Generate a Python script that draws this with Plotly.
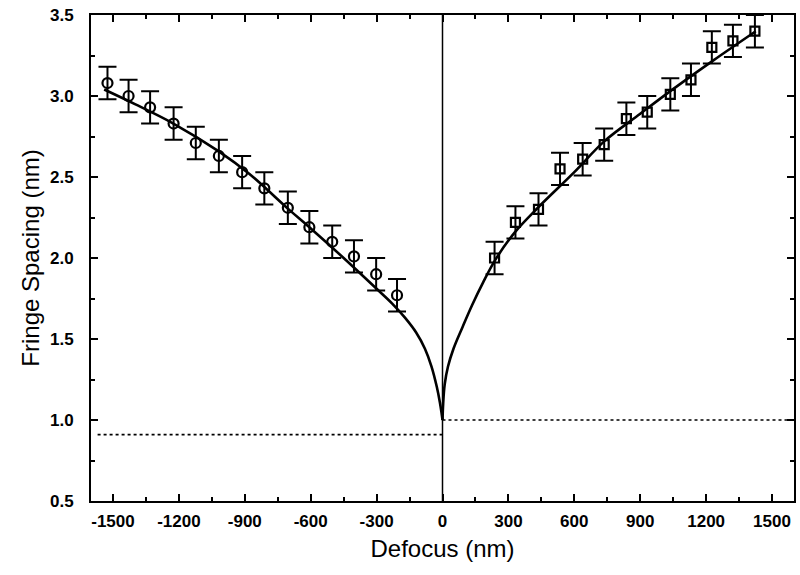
import plotly.graph_objects as go

# Measured fringe spacing, negative defocus (underfocus)
under_defocus = [-1525, -1429, -1331, -1224, -1123, -1018, -912, -811, -704, -606, -502, -403, -302, -207]
under_spacing = [3.08, 3.00, 2.93, 2.83, 2.71, 2.63, 2.53, 2.43, 2.31, 2.19, 2.10, 2.01, 1.90, 1.77]
under_err = [0.1] * len(under_defocus)

# Measured fringe spacing, positive defocus (overfocus)
over_defocus = [237, 332, 437, 535, 638, 736, 837, 932, 1037, 1131, 1226, 1322, 1422]
over_spacing = [2.00, 2.22, 2.30, 2.55, 2.61, 2.70, 2.86, 2.90, 3.01, 3.10, 3.30, 3.34, 3.40]
over_err = [0.1] * len(over_defocus)

# Fitted curves
fit_under_x = [-1540, -1400, -1225, -1020, -880, -700, -606, -450, -300, -230, -170, -120, -80, -50, -26, -12, -4, 0]
fit_under_y = [3.04, 2.95, 2.83, 2.66, 2.52, 2.30, 2.19, 2.00, 1.81, 1.72, 1.63, 1.54, 1.44, 1.33, 1.205, 1.11, 1.04, 1.0]
fit_over_x = [0, 3, 10, 25, 50, 90, 135, 185, 241, 330, 434, 600, 736, 900, 1037, 1233, 1426]
fit_over_y = [1.0, 1.10, 1.22, 1.33, 1.44, 1.57, 1.71, 1.85, 1.99, 2.16, 2.31, 2.53, 2.72, 2.89, 3.03, 3.22, 3.40]

# Limiting spacings (dotted reference levels)
limit_under_x = [-1570, 0]
limit_under_y = [0.91, 0.91]
limit_over_x = [0, 1600]
limit_over_y = [1.0, 1.0]

x_ticks = [-1500, -1200, -900, -600, -300, 0, 300, 600, 900, 1200, 1500]
y_ticks = [0.5, 1.0, 1.5, 2.0, 2.5, 3.0, 3.5]

fig = go.Figure()

for xs, ys in [(limit_under_x, limit_under_y), (limit_over_x, limit_over_y)]:
    fig.add_trace(go.Scatter(x=xs, y=ys, mode="lines",
                             line=dict(color="black", width=1.6, dash="dot"),
                             showlegend=False, hoverinfo="skip"))

for xs, ys in [(fit_under_x, fit_under_y), (fit_over_x, fit_over_y)]:
    fig.add_trace(go.Scatter(x=xs, y=ys, mode="lines",
                             line=dict(color="black", width=2.6, shape="spline", smoothing=1.0),
                             showlegend=False))

fig.add_trace(go.Scatter(
    x=under_defocus, y=under_spacing, mode="markers",
    marker=dict(symbol="circle-open", size=10, color="black", line=dict(width=2.2)),
    error_y=dict(type="data", array=under_err, visible=True, color="black", thickness=2, width=9),
    showlegend=False))

fig.add_trace(go.Scatter(
    x=over_defocus, y=over_spacing, mode="markers",
    marker=dict(symbol="square-open", size=9, color="black", line=dict(width=2.2)),
    error_y=dict(type="data", array=over_err, visible=True, color="black", thickness=2, width=9),
    showlegend=False))

# Zero-defocus marker line
fig.add_shape(type="line", x0=0, x1=0, y0=0, y1=1, xref="x", yref="paper",
              line=dict(color="black", width=1.5))

axis_common = dict(
    showline=True, linecolor="black", linewidth=2, mirror="ticks",
    ticks="inside", ticklen=7, tickwidth=2, tickcolor="black",
    showgrid=False, zeroline=False,
    tickfont=dict(family="Liberation Sans, Arial, sans-serif", size=17, color="black", weight="bold"),
    title_font=dict(family="Liberation Sans, Arial, sans-serif", size=24, color="black"),
)

fig.update_xaxes(
    range=[-1600, 1600], tickvals=x_ticks, ticktext=[str(v) for v in x_ticks],
    minor=dict(ticks="inside", ticklen=4, tickwidth=1.5, tickcolor="black", dtick=150, tick0=0),
    title_text="Defocus (nm)", title_standoff=10, ticklabelstandoff=4,
    **axis_common)
fig.update_yaxes(
    range=[0.5, 3.5], tickvals=y_ticks, ticktext=[f"{v:.1f}" for v in y_ticks],
    minor=dict(ticks="inside", ticklen=4, tickwidth=1.5, tickcolor="black", dtick=0.25, tick0=0.5),
    title_text="Fringe Spacing (nm)", title_standoff=4, ticklabelstandoff=12,
    **axis_common)

fig.update_layout(
    width=800, height=575,
    margin=dict(l=91, r=4, t=15, b=74),
    paper_bgcolor="white", plot_bgcolor="white",
)

fig.write_html("out.html")
